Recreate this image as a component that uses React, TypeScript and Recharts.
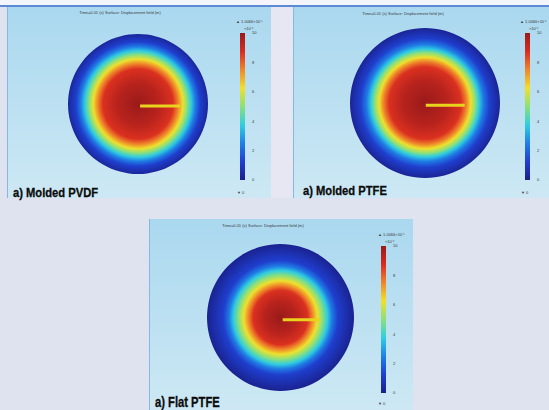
import React from 'react';
import { PieChart, Pie, LineChart, Line, XAxis, YAxis, BarChart, Bar } from 'recharts';

// colour scale ticks (x10^-6)
const scaleTicks = [0, 2, 4, 6, 8, 10];
const scaleMax = 10;
const peakText = '1.0066×10⁻⁵';
const unitText = '×10⁻⁶';
const minText = '0';
const titleText = 'Time=0.01 (s)  Surface: Displacement field (m)';

// radial profile of the field, radius as fraction of disc, value on scale 0..10
const pvdfRadius = [0, 0.3, 0.5, 0.57, 0.64, 0.7, 0.76, 0.82, 0.89, 1];
const pvdfField = [10, 9.4, 8.7, 7.6, 6.2, 5, 3.7, 2.4, 1.2, 0.3];
const moldedPtfeRadius = [0, 0.3, 0.48, 0.55, 0.61, 0.67, 0.72, 0.78, 0.86, 1];
const moldedPtfeField = [10, 9.4, 8.7, 7.6, 6.2, 5, 3.7, 2.4, 1.2, 0.2];
const flatPtfeRadius = [0, 0.22, 0.37, 0.43, 0.5, 0.57, 0.64, 0.7, 0.78, 1];
const flatPtfeField = [10, 9.4, 8.7, 7.6, 6.2, 5, 3.7, 2.4, 1.2, 0.1];

// probe cut line, in disc units
const pvdfProbe = [0.03, 0.6];
const moldedPtfeProbe = [0.01, 0.53];
const flatPtfeProbe = [0.03, 0.54];

const panelNames = ['a) Molded PVDF', 'a) Molded PTFE', 'a) Flat PTFE'];

const RAINBOW = ['#1a1f8a', '#1f3fd0', '#1f80e6', '#30cfe0', '#8ce07a', '#f2e02a', '#f0862a', '#d92c20', '#9a1a1a'];

const hex = (c: string) => [1, 3, 5].map((i) => parseInt(c.slice(i, i + 2), 16));
const rainbow = (v: number) => {
  const t = Math.max(0, Math.min(1, v / scaleMax)) * (RAINBOW.length - 1);
  const i = Math.min(RAINBOW.length - 2, Math.floor(t));
  const f = t - i;
  const a = hex(RAINBOW[i]);
  const b = hex(RAINBOW[i + 1]);
  return `rgb(${a.map((x, k) => Math.round(x + (b[k] - x) * f)).join(',')})`;
};

const heavy = 'bold 13px "Liberation Sans", Arial, sans-serif';

const panels = [
  {
    id: 'pvdf', name: panelNames[0], radius: pvdfRadius, field: pvdfField, probe: pvdfProbe,
    box: { left: 7, top: 7, width: 263, height: 191 },
    disc: { cx: 138, cy: 104, r: 70 },
    bar: { x: 240, top: 33, h: 147 },
    title: { x: 120, y: 12 }, peak: { x: 236, y: 21 }, min: { x: 237, y: 192 },
    label: { x: 13, y: 192, font: heavy, sx: 0.86 },
  },
  {
    id: 'mptfe', name: panelNames[1], radius: moldedPtfeRadius, field: moldedPtfeField, probe: moldedPtfeProbe,
    box: { left: 293, top: 7, width: 256, height: 191 },
    disc: { cx: 425, cy: 103, r: 75 },
    bar: { x: 525, top: 33, h: 147 },
    title: { x: 403, y: 13 }, peak: { x: 520, y: 21 }, min: { x: 521, y: 192 },
    label: { x: 303, y: 190, font: heavy, sx: 0.86 },
  },
  {
    id: 'fptfe', name: panelNames[2], radius: flatPtfeRadius, field: flatPtfeField, probe: flatPtfeProbe,
    box: { left: 149, top: 219, width: 263, height: 191 },
    disc: { cx: 280, cy: 317, r: 73.5 },
    bar: { x: 381, top: 246, h: 147 },
    title: { x: 263, y: 225 }, peak: { x: 378, y: 234 }, min: { x: 378, y: 403 },
    label: { x: 155, y: 402, font: 'bold 14px "Liberation Sans", Arial, sans-serif', sx: 0.8 },
  },
];

const tiny: React.CSSProperties = {
  position: 'absolute', fontFamily: '"Liberation Sans", Arial, sans-serif', fontSize: 4,
  color: '#3a3a3a', whiteSpace: 'nowrap', lineHeight: '5px',
};

function Gradients() {
  return (
    <svg width={0} height={0} style={{ position: 'absolute' }}>
      <defs>
        {panels.map((p) => (
          <radialGradient key={p.id} id={`disc-${p.id}`} cx="50%" cy="50%" r="50%">
            {p.radius.map((r, i) => (
              <stop key={i} offset={r} stopColor={rainbow(p.field[i])} />
            ))}
          </radialGradient>
        ))}
        <linearGradient id="scale" x1="0" y1="1" x2="0" y2="0">
          {RAINBOW.map((c, i) => (
            <stop key={i} offset={i / (RAINBOW.length - 1)} stopColor={c} />
          ))}
        </linearGradient>
      </defs>
    </svg>
  );
}

function Panel({ p }: { p: (typeof panels)[number] }) {
  const d = 2 * p.disc.r;
  const probeData = p.probe.map((x) => ({ x, y: -0.03 }));
  return (
    <>
      <div
        style={{
          position: 'absolute', left: p.box.left, top: p.box.top, width: p.box.width, height: p.box.height,
          background: 'linear-gradient(#aad8ef, #cde8f4)', borderLeft: '1px solid #86b8e2',
        }}
      />
      <div style={{ ...tiny, left: p.title.x, top: p.title.y - 2.5, transform: 'translateX(-50%)' }}>{titleText}</div>
      <div style={{ ...tiny, left: p.peak.x, top: p.peak.y - 2.5 }}>▲ {peakText}</div>
      <div style={{ ...tiny, left: p.bar.x + 4, top: p.peak.y + 4.5 }}>{unitText}</div>
      <div style={{ ...tiny, left: p.min.x, top: p.min.y - 2.5 }}>▼ {minText}</div>
      <div style={{ position: 'absolute', left: p.disc.cx - p.disc.r, top: p.disc.cy - p.disc.r }}>
        <PieChart width={d} height={d} margin={{ top: 0, right: 0, bottom: 0, left: 0 }}>
          <Pie
            data={[{ name: p.name, value: 1 }]}
            dataKey="value"
            cx="50%"
            cy="50%"
            innerRadius={0}
            outerRadius={p.disc.r}
            startAngle={0}
            endAngle={360}
            stroke="none"
            fill={`url(#disc-${p.id})`}
            isAnimationActive={false}
          />
        </PieChart>
      </div>
      <div style={{ position: 'absolute', left: p.disc.cx - p.disc.r, top: p.disc.cy - p.disc.r }}>
        <LineChart width={d} height={d} data={probeData} margin={{ top: 0, right: 0, bottom: 0, left: 0 }}>
          <XAxis type="number" dataKey="x" domain={[-1, 1]} hide />
          <YAxis type="number" domain={[-1, 1]} hide />
          <Line dataKey="y" stroke="#e8d41e" strokeWidth={3} dot={false} isAnimationActive={false} />
        </LineChart>
      </div>
      <div style={{ position: 'absolute', left: p.bar.x, top: p.bar.top - 3 }}>
        <BarChart
          width={17}
          height={p.bar.h + 6}
          data={[{ name: 'u', value: scaleMax }]}
          margin={{ top: 3, right: 0, bottom: 3, left: 0 }}
          barCategoryGap={0}
        >
          <XAxis dataKey="name" hide />
          <YAxis
            orientation="right"
            width={12}
            type="number"
            domain={[0, scaleMax]}
            ticks={scaleTicks}
            tick={{ fontSize: 4, fill: '#3a3a3a', fontFamily: '"Liberation Sans", sans-serif' }}
            tickLine={false}
            axisLine={false}
            tickMargin={1}
            interval={0}
          />
          <Bar dataKey="value" fill="url(#scale)" isAnimationActive={false} />
        </BarChart>
      </div>
      <div
        style={{
          position: 'absolute', left: p.label.x, top: p.label.y, transform: `translateY(-50%) scaleX(${p.label.sx})`,
          transformOrigin: 'left center', font: p.label.font, color: '#0b0b0b', whiteSpace: 'nowrap',
          WebkitTextStroke: '0.3px #0b0b0b',
        }}
      >
        {p.name}
      </div>
    </>
  );
}

export default function App() {
  return (
    <div style={{ position: 'absolute', left: 0, top: 0, width: 549, height: 410, overflow: 'hidden', background: '#dfe3f0' }}>
      <Gradients />
      <div style={{ position: 'absolute', left: 0, top: 0, width: 549, height: 5, background: '#f3f5fa' }} />
      <div style={{ position: 'absolute', left: 0, top: 5, width: 549, height: 2, background: '#5c8ad6' }} />
      <div style={{ position: 'absolute', left: 270, top: 7, width: 23, height: 191, background: '#e6e7f3' }} />
      {panels.map((p) => (
        <Panel key={p.id} p={p} />
      ))}
    </div>
  );
}
